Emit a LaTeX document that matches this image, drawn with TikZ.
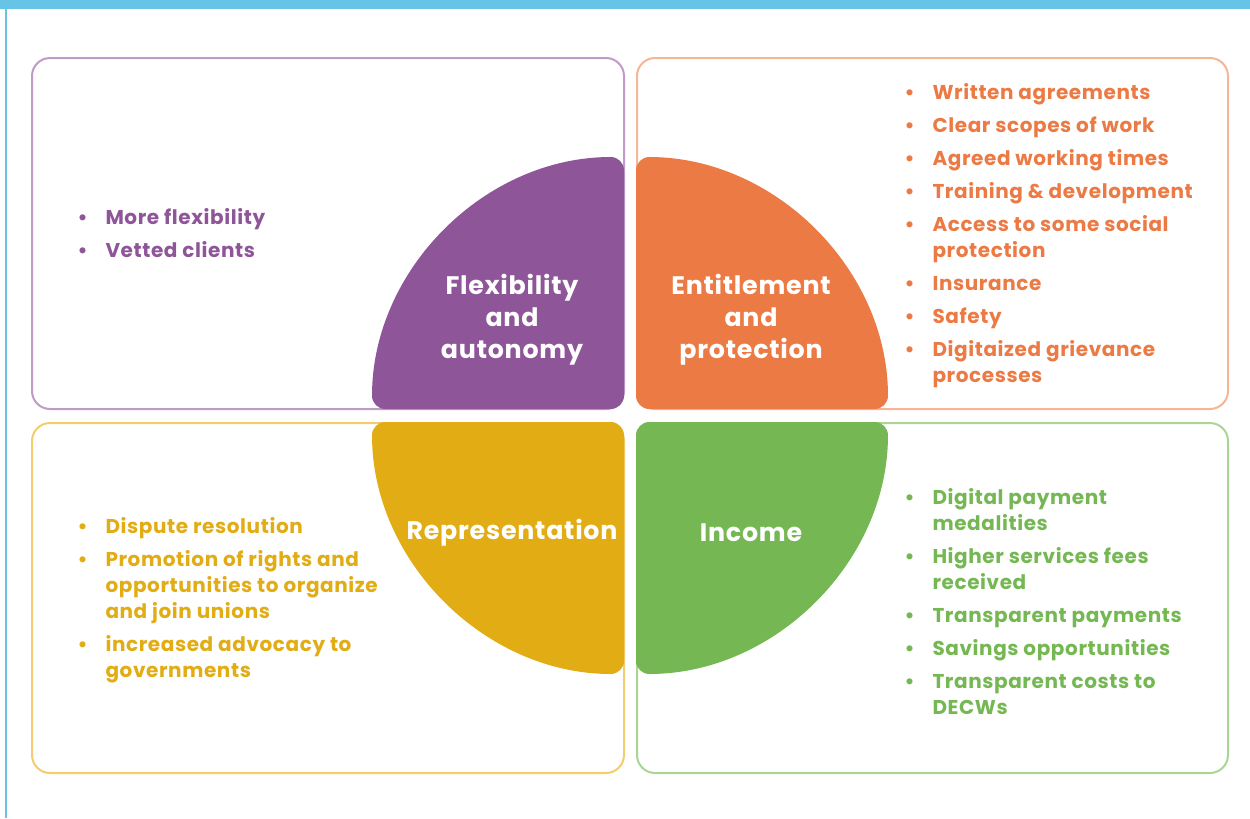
\documentclass[tikz,border=0pt]{standalone}
\usepackage{fontspec}
\setmainfont{Poppins}[LetterSpace=3.0]
\definecolor{barblue}{RGB}{103,196,230}
\definecolor{flexpurple}{RGB}{142,85,152}
\definecolor{entorange}{RGB}{235,122,69}
\definecolor{repyellow}{RGB}{225,172,20}
\definecolor{incgreen}{RGB}{117,184,83}
\definecolor{flexline}{RGB}{192,155,200}
\definecolor{entline}{RGB}{245,181,150}
\definecolor{repline}{RGB}{243,204,110}
\definecolor{incline}{RGB}{170,213,151}
\tikzset{every picture/.style={line width=0.75pt}}
\tikzset{
  panel/.style={line width=1.5pt, rounded corners=13.5pt},
  quarter/.style={rounded corners=10pt},
  quarterlabel/.style={text=white, align=center, inner sep=0pt, font=\fontsize{19}{24}\selectfont\bfseries},
  bulletlist/.style={anchor=base west, inner sep=0pt, align=left, font=\fontsize{15}{19.5}\selectfont\bfseries}
}
\newenvironment{blist}{\begin{tabular}[t]{@{}p{21pt}@{}l@{}}}{\end{tabular}}
\newcommand{\gap}{\\[5.25pt]}

\begin{document}
\begin{tikzpicture}[x=0.75pt,y=0.75pt,yscale=-1,xscale=1]
		\useasboundingbox (0,0) rectangle (1250,818);

		%Shape: Top bar
		\fill [color=barblue] (0,0) rectangle (1250,9);
		%Straight Lines left edge
		\draw [color=barblue, line width=1.5pt] (6,9) -- (6,818);

		%Shape: Rounded Rect panels
		\draw [panel, color=flexline] (32,58) rectangle (624,409);
		\draw [panel, color=entline] (637,58) rectangle (1228,409);
		\draw [panel, color=repline] (32,423) rectangle (624,773);
		\draw [panel, color=incline] (637,423) rectangle (1228,773);

		%Shape: Quarter circles
		\fill [color=flexpurple] (500,409) [quarter] -- (372,409) arc [start angle=180, end angle=270, radius=252] -- (624,409) [sharp corners] -- cycle;
		\fill [color=entorange] (760,409) [quarter] -- (888,409) arc [start angle=0, end angle=-90, radius=252] -- (636,409) [sharp corners] -- cycle;
		\fill [color=repyellow] (500,422) [quarter] -- (372,422) arc [start angle=180, end angle=90, radius=252] -- (624,422) [sharp corners] -- cycle;
		\fill [color=incgreen] (760,422) [quarter] -- (888,422) arc [start angle=0, end angle=90, radius=252] -- (636,422) [sharp corners] -- cycle;

		% Text Node
		\node (flex) [quarterlabel] at (512,320) {Flexibility\\and\\autonomy};
		% Text Node
		\node (ent) [quarterlabel] at (751,320) {Entitlement\\and\\protection};
		% Text Node
		\node (rep) [quarterlabel] at (512,533) {Representation};
		% Text Node
		\node (inc) [quarterlabel] at (751,533) {Income};

		% Text Node
		\node (flexlist) [bulletlist, text=flexpurple] at (77,224) {\begin{blist}
			\textbullet & More flexibility\gap
			\textbullet & Vetted clients
		\end{blist}};
		% Text Node
		\node (entlist) [bulletlist, text=entorange] at (904,99) {\begin{blist}
			\textbullet & Written agreements\gap
			\textbullet & Clear scopes of work\gap
			\textbullet & Agreed working times\gap
			\textbullet & Training \& development\gap
			\textbullet & Access to some social\\ & protection\gap
			\textbullet & Insurance\gap
			\textbullet & Safety\gap
			\textbullet & Digitaized grievance\\ & processes
		\end{blist}};
		% Text Node
		\node (replist) [bulletlist, text=repyellow] at (77,533) {\begin{blist}
			\textbullet & Dispute resolution\gap
			\textbullet & Promotion of rights and\\ & opportunities to organize\\ & and join unions\gap
			\textbullet & increased advocacy to\\ & governments
		\end{blist}};
		% Text Node
		\node (inclist) [bulletlist, text=incgreen] at (904,504) {\begin{blist}
			\textbullet & Digital payment\\ & medalities\gap
			\textbullet & Higher services fees\\ & received\gap
			\textbullet & Transparent payments\gap
			\textbullet & Savings opportunities\gap
			\textbullet & Transparent costs to\\ & DECWs
		\end{blist}};

	\end{tikzpicture}
\end{document}
